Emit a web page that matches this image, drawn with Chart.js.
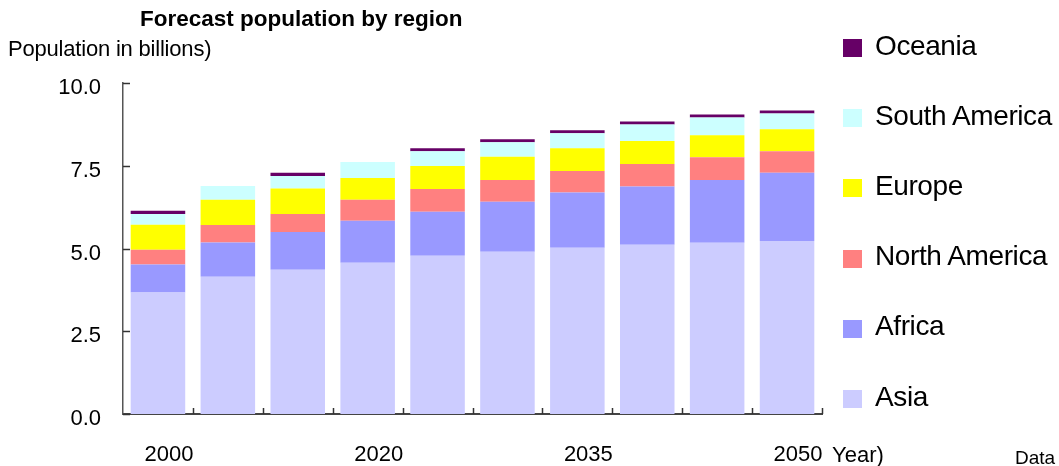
<!DOCTYPE html>
<html>
<head>
<meta charset="utf-8">
<script src="https://cdn.jsdelivr.net/npm/chart.js@4/dist/chart.umd.min.js"></script>
<style>
  body { margin: 0; background: #fff; font-family: "Liberation Sans", Arial, sans-serif; }
  #wrap { position: relative; width: 1059px; height: 466px; overflow: hidden; }
  #grafico { position: absolute; left: 0; top: 0; }
  .txt { position: absolute; color: #000; white-space: nowrap; line-height: 1; }
  #titulo { left: 140px; top: 8px; font-size: 22.5px; font-weight: bold; }
  #eixoY { left: 8px; top: 38px; font-size: 22px; letter-spacing: -0.2px; }
  #eixoX { left: 832px; top: 444px; font-size: 22px; }
  #fonte { left: 1015px; top: 448px; font-size: 19px; }
  #legenda { position: absolute; left: 843px; top: 0; width: 216px; }
  .item { position: absolute; left: 0; height: 30px; display: flex; align-items: center; white-space: nowrap; }
  .item i { display: block; flex: none; width: 19px; height: 18px; margin-right: 13px; }
  .item span { font-size: 28px; letter-spacing: -0.4px; line-height: 1; margin-top: -5px; }
</style>
</head>
<body>
<div id="wrap">
  <canvas id="grafico" width="1059" height="466"></canvas>
  <div class="txt" id="titulo">Forecast population by region</div>
  <div class="txt" id="eixoY">Population in billions)</div>
  <div class="txt" id="eixoX">Year)</div>
  <div class="txt" id="fonte">Data</div>
  <div id="legenda"></div>
</div>
<script>
// ====== DADOS ======
const anos = ["2000", "2010", "2015", "2020", "2025", "2030", "2035", "2040", "2045", "2050"];
const anosVisiveis = ["2000", "2020", "2035", "2050"];
const ticksY = [0, 2.5, 5, 7.5, 10];

const asia = [3.67, 4.15, 4.36, 4.57, 4.78, 4.90, 5.02, 5.11, 5.17, 5.23];
const africa = [0.85, 1.03, 1.14, 1.27, 1.33, 1.51, 1.67, 1.76, 1.90, 2.06];
const americaNorte = [0.44, 0.53, 0.54, 0.63, 0.69, 0.66, 0.65, 0.68, 0.69, 0.65];
const europa = [0.76, 0.76, 0.77, 0.66, 0.69, 0.70, 0.69, 0.70, 0.66, 0.66];
const americaSul = [0.32, 0.42, 0.38, 0.48, 0.45, 0.44, 0.45, 0.50, 0.54, 0.48];
const oceania = [0.10, 0, 0.10, 0, 0.09, 0.09, 0.09, 0.09, 0.09, 0.09];

const series = [
  { label: "Asia", data: asia, cor: "#CCCCFF" },
  { label: "Africa", data: africa, cor: "#9999FF" },
  { label: "North America", data: americaNorte, cor: "#FF8080" },
  { label: "Europe", data: europa, cor: "#FFFF00" },
  { label: "South America", data: americaSul, cor: "#CCFFFF" },
  { label: "Oceania", data: oceania, cor: "#660066" }
];

const fonte = "'Liberation Sans', Arial, sans-serif";

// ====== TRACINHOS PARA DENTRO ======
const tracinhos = {
  id: "tracinhos",
  afterDraw(chart) {
    const { ctx, chartArea, scales } = chart;
    ctx.save();
    ctx.strokeStyle = "#333";
    ctx.lineWidth = 1.5;
    ticksY.forEach(v => {
      const y = Math.round(scales.y.getPixelForValue(v)) + 0.5;
      ctx.beginPath();
      ctx.moveTo(chartArea.left, y);
      ctx.lineTo(chartArea.left + 7, y);
      ctx.stroke();
    });
    const passo = (chartArea.right - chartArea.left) / anos.length;
    for (let i = 1; i <= anos.length; i++) {
      const x = Math.round(chartArea.left + passo * i) + 0.5;
      ctx.beginPath();
      ctx.moveTo(x, chartArea.bottom);
      ctx.lineTo(x, chartArea.bottom - 6);
      ctx.stroke();
    }
    ctx.restore();
  }
};

const grafico = new Chart(document.getElementById("grafico"), {
  type: "bar",
  data: {
    labels: anos,
    datasets: series.map(s => ({
      label: s.label,
      data: s.data,
      backgroundColor: s.cor,
      borderWidth: 0,
      barPercentage: 0.78,
      categoryPercentage: 1
    }))
  },
  options: {
    responsive: false,
    animation: false,
    layout: { padding: { left: 0, right: 237, top: 83, bottom: 0 } },
    plugins: { legend: { display: false }, tooltip: { enabled: false } },
    scales: {
      x: {
        stacked: true,
        grid: { display: false },
        border: { display: true, color: "#444", width: 2 },
        ticks: {
          autoSkip: false,
          maxRotation: 0,
          padding: 20,
          labelOffset: 11,
          color: "#000",
          font: { family: fonte, size: 22 },
          callback: function (v, i) {
            const a = anos[i];
            return anosVisiveis.includes(a) ? a : "";
          }
        },
        afterFit: s => { s.height = 52; }
      },
      y: {
        stacked: true,
        min: 0,
        max: 10,
        grid: { display: false, drawTicks: false },
        border: { display: true, color: "#555", width: 1.5 },
        ticks: {
          stepSize: 2.5,
          padding: 22,
          labelOffset: 5,
          color: "#000",
          font: { family: fonte, size: 22 },
          callback: v => Number(v).toFixed(1)
        },
        afterFit: s => { s.width = 123; }
      }
    }
  },
  plugins: [tracinhos]
});

// ====== LEGENDA ======
const legenda = document.getElementById("legenda");
[...grafico.data.datasets].reverse().forEach((d, i) => {
  const item = document.createElement("div");
  item.className = "item";
  item.style.top = (33 + i * 70.2) + "px";
  item.innerHTML = `<i style="background:${d.backgroundColor}"></i><span>${d.label}</span>`;
  legenda.appendChild(item);
});
</script>
</body>
</html>
